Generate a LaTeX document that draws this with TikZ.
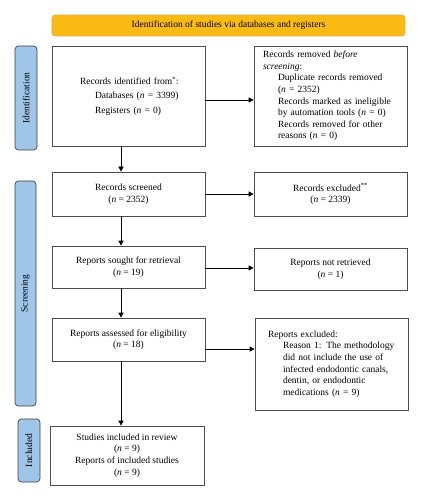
\documentclass[tikz,border=0pt]{standalone}
\usepackage{fontspec}
\setmainfont{Liberation Serif}
\usetikzlibrary{arrows.meta,calc}
\definecolor{bannerfill}{HTML}{FBBA14}
\definecolor{bannerdraw}{HTML}{D9AE5C}
\definecolor{sidefill}{HTML}{9FC5E8}
\definecolor{sidedraw}{HTML}{3F3F3F}
\definecolor{boxdraw}{HTML}{4D4D4D}
\newcommand{\fs}{\fontsize{9.5bp}{11.6bp}\selectfont}
\newcommand{\nn}{\textit{n}}
\begin{document}
\begin{tikzpicture}[x=1bp,y=-1bp,
  box/.style={draw=boxdraw, line width=0.7bp, minimum width=153bp, inner sep=0pt, font=\fs, align=center},
  lefttext/.style={align=left, text width=153bp, inner xsep=0pt},
  banner/.style={draw=bannerdraw, line width=0.6bp, fill=bannerfill, rounded corners=3bp, minimum width=353bp, minimum height=21bp, inner sep=0pt, font=\fs},
  sidebar/.style={draw=sidedraw, line width=0.7bp, fill=sidefill, rounded corners=3.5bp, inner sep=0pt, rotate=90, font=\fs},
  arr/.style={line width=0.7bp, -{Triangle[length=5bp,width=5bp]}}
]
\useasboundingbox (0,0) rectangle (423,500);

\node[banner] (banner) at (228.5,25.5) {Identification of studies via databases and registers};

\node[sidebar, minimum width=104bp, minimum height=22bp] (sid) at (26,98) {Identification};
\node[sidebar, minimum width=225bp, minimum height=21bp] (sscr) at (25.5,293.5) {Screening};
\node[sidebar, minimum width=63bp, minimum height=22bp] (sinc) at (29,450.5) {Included};

\node[box, lefttext, minimum height=100bp] (b1) at (128.5,96)
 {\hspace*{28bp}Records identified from\textsuperscript{*}:\\[2.6bp]
  \hspace*{43bp}Databases (\nn{} = 3399)\\[2.6bp]
  \hspace*{43bp}Registers (\nn{} = 0)};
\node[box, lefttext, minimum height=100bp] (r1) at (330.5,96)
 {\hspace*{9bp}Records removed \textit{before}\\
  \hspace*{9bp}\textit{screening}:\\
  \hspace*{24bp}Duplicate records removed\\
  \hspace*{24bp}(\nn{} = 2352)\\
  \hspace*{24bp}Records marked as ineligible\\
  \hspace*{24bp}by automation tools (\nn{} = 0)\\
  \hspace*{24bp}Records removed for other\\
  \hspace*{24bp}reasons (\nn{} = 0)};

\node[box, minimum height=44bp] (b2) at (128.5,194) {Records screened\\(\nn{} = 2352)};
\node[box, minimum height=44bp] (r2) at (330.5,194) {Records excluded\textsuperscript{**}\\(\nn{} = 2339)};

\node[box, minimum height=42bp] (b3) at (128.5,267) {Reports sought for retrieval\\(\nn{} = 19)};
\node[box, minimum height=42bp] (r3) at (330.5,269) {Reports not retrieved\\(\nn{} = 1)};

\node[box, minimum height=43bp] (b4) at (128.5,339.5) {Reports assessed for eligibility\\(\nn{} = 18)};
\node[box, lefttext, minimum height=92bp] (r4) at (331.5,364)
 {\hspace*{13bp}Reports excluded:\\
  \hspace*{28bp}Reason 1: The methodology\\
  \hspace*{28bp}did not include the use of\\
  \hspace*{28bp}infected endodontic canals,\\
  \hspace*{28bp}dentin, or endodontic\\
  \hspace*{28bp}medications (\nn{} = 9)};

\node[box, minimum width=154bp, minimum height=59bp] (b5) at (127,455.5)
 {Studies included in review\\(\nn{} = 9)\\Reports of included studies\\(\nn{} = 9)};

% horizontal arrows
\draw[arr] ([yshift=-4bp]b1.east) -- ([yshift=-4bp]r1.west);
\draw[arr] (b2.east) -- (r2.west);
\draw[arr] ([yshift=-1bp]b3.east) -- ([yshift=-1bp]b3.east -| r3.west);
\draw[arr] ([yshift=-9.5bp]b4.east) -- ([yshift=-9.5bp]b4.east -| r4.west);

% vertical arrows
\draw[arr] ([xshift=-7.5bp]b1.south) -- ([xshift=-7.5bp]b1.south |- b2.north);
\draw[arr] ([xshift=-7.5bp]b2.south) -- ([xshift=-7.5bp]b2.south |- b3.north);
\draw[arr] ([xshift=-7.5bp]b3.south) -- ([xshift=-7.5bp]b3.south |- b4.north);
\draw[arr] ([xshift=-7.5bp]b4.south) -- ([xshift=-7.5bp]b4.south |- b5.north);
\end{tikzpicture}
\end{document}
